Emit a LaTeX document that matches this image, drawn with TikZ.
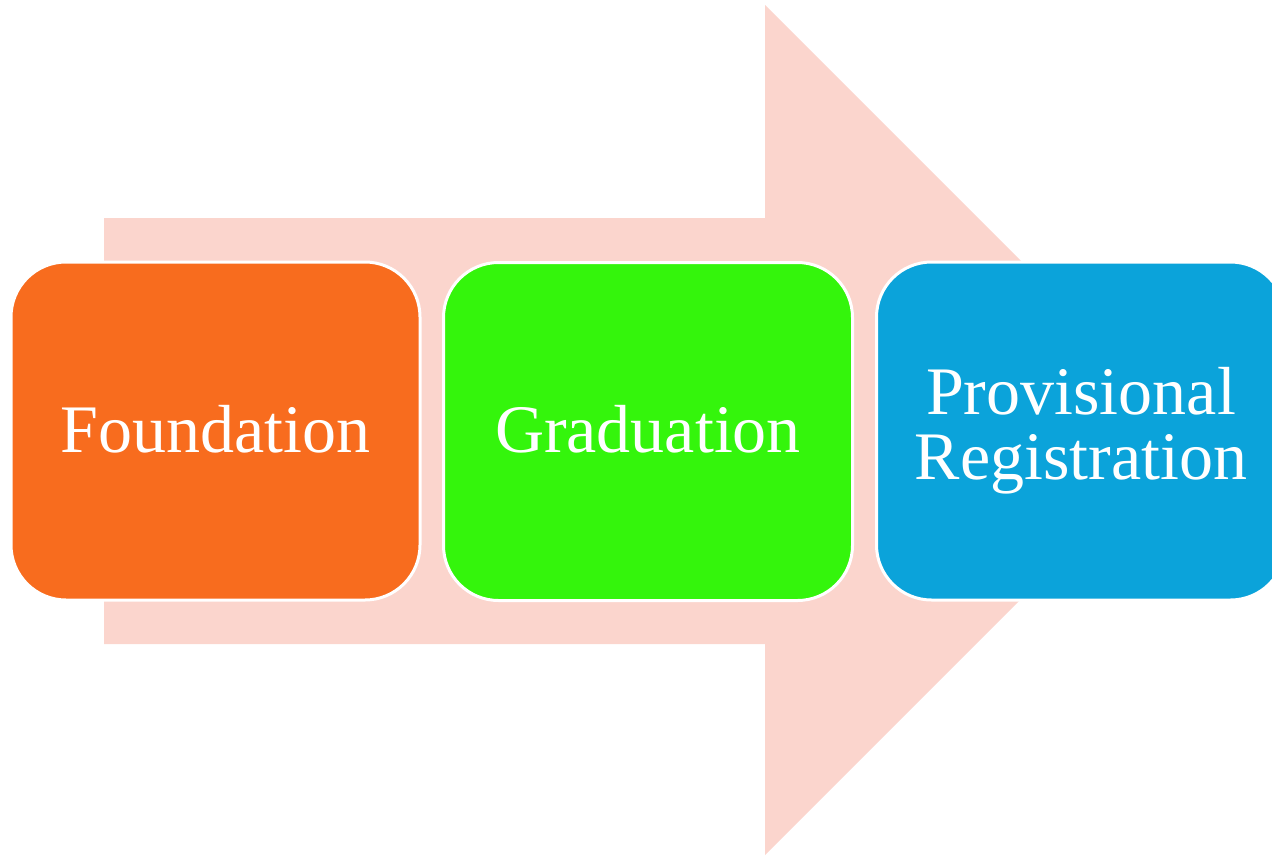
\documentclass[tikz,border=0pt]{standalone}
\usepackage{fontspec}
\setmainfont{Liberation Serif}
\definecolor{arrowpink}{RGB}{251,213,205}
\definecolor{boxorange}{RGB}{248,108,30}
\definecolor{boxgreen}{RGB}{52,245,12}
\definecolor{boxblue}{RGB}{11,163,218}
\begin{document}
\begin{tikzpicture}[x=1pt,y=-1pt,
  stagebox/.style={draw=white, line width=3pt, rounded corners=55pt,
    minimum width=409pt, minimum height=338pt, inner sep=0pt,
    text=white, align=center,
    font=\fontsize{68}{65}\selectfont}]
\clip (0,0) rectangle (1272,855);
\useasboundingbox (0,0) rectangle (1272,855);
% big background arrow
\fill[arrowpink] (104,218) -- (765,218) -- (765,5) -- (1190,430)
  -- (765,855) -- (765,644) -- (104,644) -- cycle;
\node[stagebox, fill=boxorange] (found) at (215.5,431) {\raisebox{5pt}{Foundation}};
\node[stagebox, fill=boxgreen] (grad) at (648,431.5) {\raisebox{5pt}{Graduation}};
\node[stagebox, fill=boxblue] (prov) at (1081,431) {Provisional\\Registration};
\end{tikzpicture}
\end{document}
